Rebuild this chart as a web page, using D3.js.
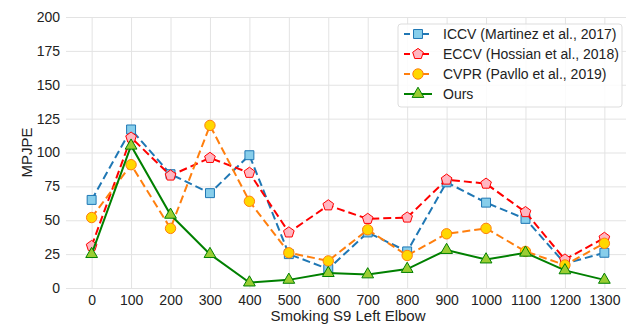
<!DOCTYPE html>
<html>
  <head>
    <meta charset="utf-8">
    <title>MPJPE chart</title>
    <script type="text/javascript" src="https://cdn.jsdelivr.net/npm/d3@7"></script>
    <style type='text/css'>
      body { margin: 0; background: white; }
      text { font-family: "Liberation Sans", Arial, sans-serif; }
    </style>
  </head>
  <body>
    <script type="text/javascript">
      var w = 626;
      var h = 326;

      var frames = [0, 100, 200, 300, 400, 500, 600, 700, 800, 900, 1000, 1100, 1200, 1300];
      var yTicks = [0, 25, 50, 75, 100, 125, 150, 175, 200];
      var iccv = [65, 117, 84, 70, 98, 25, 14, 41, 27, 78, 63, 51, 18, 26];
      var eccv = [31, 111, 83, 96, 85, 41, 61, 51, 52, 80, 77, 56, 21, 37];
      var cvpr = [52, 91, 44, 120, 64, 26, 20, 43, 24, 40, 44, 27, 17, 33];
      var ours = [25, 105, 54, 25, 4, 6, 11, 10, 14, 28, 21, 26, 13, 6];

      var series = [
        {name: 'ICCV (Martinez et al., 2017)', values: iccv, line: '#1f77b4', face: '#87ceeb', dash: '8,4', shape: d3.symbolSquare, size: 80},
        {name: 'ECCV (Hossian et al., 2018)', values: eccv, line: '#ff0000', face: '#ffb6c1', dash: '8,4', shape: 'pentagon', size: 90},
        {name: 'CVPR (Pavllo et al., 2019)', values: cvpr, line: '#ff7f0e', face: '#ffd700', dash: '8,4', shape: d3.symbolCircle, size: 85},
        {name: 'Ours', values: ours, line: '#008000', face: '#9acd32', dash: null, shape: d3.symbolTriangle, size: 60}
      ];

      var plotL = 66, plotR = 630, plotT = 17, plotB = 288;

      var x = d3.scaleLinear().domain([-65, 1365]).range([plotL, plotR]);
      var y = d3.scaleLinear().domain([0, 200]).range([plotB, plotT]);

      var svg = d3.select('body')
                  .append('svg')
                  .attr('width', w)
                  .attr('height', h);

      // pentagon path for the ECCV marker
      function pentagon(r) {
        var pts = d3.range(5).map(function(i) {
          var a = -Math.PI / 2 + i * 2 * Math.PI / 5;
          return [r * Math.cos(a), r * Math.sin(a)];
        });
        return 'M' + pts.join('L') + 'Z';
      }
      function markerPath(s) {
        if (s.shape === 'pentagon') return pentagon(5.6);
        return d3.symbol().type(s.shape).size(s.size)();
      }

      // grid
      svg.append('g')
        .attr('transform', 'translate(0,' + plotB + ')')
        .call(d3.axisBottom(x).tickValues(frames).tickSize(-(plotB - plotT)).tickFormat(''))
        .call(function(g) { g.select('.domain').remove(); })
        .selectAll('line').attr('stroke', '#e3e3e3').attr('stroke-width', 1);

      svg.append('g')
        .attr('transform', 'translate(' + plotL + ',0)')
        .call(d3.axisLeft(y).tickValues(yTicks).tickSize(-(plotR - plotL)).tickFormat(''))
        .call(function(g) { g.select('.domain').remove(); })
        .selectAll('line').attr('stroke', '#e3e3e3').attr('stroke-width', 1);

      // tick labels
      svg.append('g')
        .attr('transform', 'translate(0,' + plotB + ')')
        .call(d3.axisBottom(x).tickValues(frames).tickFormat(d3.format('d')).tickSize(0).tickPadding(7))
        .call(function(g) { g.select('.domain').remove(); })
        .selectAll('text')
        .attr('font-size', '14px')
        .attr('fill', '#222');

      svg.append('g')
        .attr('transform', 'translate(' + plotL + ',0)')
        .call(d3.axisLeft(y).tickValues(yTicks).tickFormat(d3.format('d')).tickSize(0).tickPadding(6))
        .call(function(g) { g.select('.domain').remove(); })
        .selectAll('text')
        .attr('font-size', '14px')
        .attr('fill', '#222');

      // axis titles
      svg.append('text')
        .text('Smoking S9 Left Elbow')
        .attr('x', (plotL + plotR) / 2)
        .attr('y', 321)
        .attr('text-anchor', 'middle')
        .attr('font-size', '15px')
        .attr('fill', '#222');

      svg.append('text')
        .text('MPJPE')
        .attr('transform', 'translate(32,' + ((plotT + plotB) / 2) + ') rotate(-90)')
        .attr('text-anchor', 'middle')
        .attr('font-size', '15px')
        .attr('fill', '#222');

      var line = d3.line()
        .x(function(d, i) { return x(frames[i]); })
        .y(function(d) { return y(d); });

      var groups = svg.selectAll('g.series')
        .data(series)
        .enter()
        .append('g')
        .attr('class', 'series');

      groups.append('path')
        .attr('d', function(s) { return line(s.values); })
        .attr('fill', 'none')
        .attr('stroke', function(s) { return s.line; })
        .attr('stroke-width', 2)
        .attr('stroke-dasharray', function(s) { return s.dash; });

      groups.each(function(s) {
        d3.select(this).selectAll('path.mark')
          .data(s.values)
          .enter()
          .append('path')
          .attr('class', 'mark')
          .attr('d', markerPath(s))
          .attr('transform', function(d, i) { return 'translate(' + x(frames[i]) + ',' + y(d) + ')'; })
          .attr('fill', s.face)
          .attr('stroke', s.line)
          .attr('stroke-width', 1);
      });

      // legend
      var legend = svg.append('g').attr('transform', 'translate(398,24)');
      legend.append('rect')
        .attr('width', 224)
        .attr('height', 83)
        .attr('rx', 3)
        .attr('fill', 'rgba(255,255,255,0.85)')
        .attr('stroke', '#dddddd');

      var items = legend.selectAll('g.item')
        .data(series)
        .enter()
        .append('g')
        .attr('class', 'item')
        .attr('transform', function(d, i) { return 'translate(0,' + (10 + i * 20) + ')'; });

      items.append('line')
        .attr('x1', 6).attr('x2', 34)
        .attr('stroke', function(s) { return s.line; })
        .attr('stroke-width', 2)
        .attr('stroke-dasharray', function(s) { return s.dash ? '6,3.5' : null; });

      items.append('path')
        .attr('d', markerPath)
        .attr('transform', 'translate(20,0)')
        .attr('fill', function(s) { return s.face; })
        .attr('stroke', function(s) { return s.line; })
        .attr('stroke-width', 1);

      items.append('text')
        .text(function(s) { return s.name; })
        .attr('x', 45)
        .attr('y', 5)
        .attr('font-size', '14px')
        .attr('fill', '#222');
    </script>
  </body>
</html>
